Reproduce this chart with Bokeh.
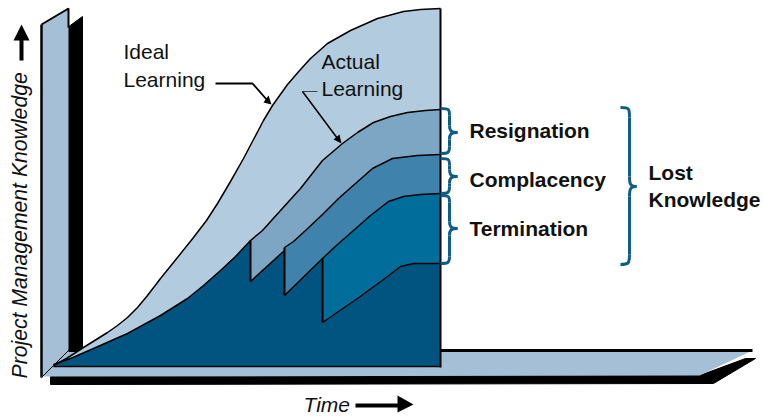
from bokeh.plotting import figure
from bokeh.models import Range1d
from bokeh.core.properties import value
from bokeh.embed import file_html
from bokeh.resources import INLINE
import math

# ---- chart values (image-pixel space of the schematic) ----
ideal_x = [53, 66, 83, 107, 117, 127, 137, 147, 160, 177, 193, 206, 217, 230, 243, 263, 272, 287, 300, 310, 327, 350, 377, 403, 420, 440]
ideal_y = [365, 358, 347, 332, 325, 317, 307, 295, 278, 257, 237, 220, 203, 181, 158, 120, 105, 84, 69, 58, 43, 30, 18, 11, 9, 8]
actual_x = [53, 70, 93, 127, 160, 187, 203, 220, 235, 250, 262, 280, 300, 322, 342, 357, 373, 390, 407, 425, 440]
actual_y = [364, 358, 348, 333, 315, 298, 285, 270, 256, 240, 230, 210, 188, 160, 143, 132, 122, 116, 112, 110, 109]
compl_x = [284, 293, 305, 322, 338, 355, 372, 392, 417, 440]
compl_y = [247, 241, 230, 214, 198, 183, 168, 158, 155, 154]
term_x = [322, 337, 353, 370, 388, 403, 420, 440]
term_y = [258, 244, 230, 215, 201, 196, 194, 193]
res_low_x = [250, 284]
res_low_y = [281, 250]
compl_low_x = [284, 322]
compl_low_y = [295, 258]
term_low_x = [322, 357, 387, 400, 413, 440]
term_low_y = [322, 298, 276, 266, 263, 263]
base_y = 366
right_x = 440

wall_x = [41, 68, 68, 41]
wall_y = [24, 8, 350, 377]
wall_shadow_x = [67, 82, 82, 67]
wall_shadow_y = [27, 16, 350, 350]
floor_x = [41, 68, 752, 699, 41]
floor_y = [377, 350, 350, 375, 376]
floor_shadow_x = [50, 50, 713, 755, 745, 699]
floor_shadow_y = [376, 384, 383, 358, 358, 375]

labels = ["Ideal", "Learning", "Actual", "Learning", "Resignation", "Complacency", "Termination", "Lost", "Knowledge"]
label_x = [123, 123, 321, 321, 469, 469, 469, 648, 648]
label_y = [51, 79, 61, 88, 130, 179, 228, 172, 199]
label_weight = ["normal"] * 4 + ["bold"] * 5

# brace geometry: start x, top, spine x, tip x, tip y, bottom
brace_x0 = [440, 440, 440, 620]
brace_top = [108, 158, 195, 107]
brace_spine = [449, 449, 449, 629]
brace_tip_x = [457, 457, 457, 636]
brace_tip_y = [132, 176, 228, 186]
brace_bot = [153, 193, 263, 264]

LIGHT, BAND1, BAND2, BAND3, DARK = "#b3cbdf", "#7ca6c4", "#3f83ad", "#006d9a", "#00547f"
WALL = "#a5c0d6"
BRACE = "#0f5c87"
INK = "#111111"

p = figure(width=763, height=416, x_range=Range1d(0, 763), y_range=Range1d(416, 0),
           toolbar_location=None, output_backend="svg", min_border=0)
p.axis.visible = False
p.grid.visible = False
p.outline_line_color = None
p.background_fill_color = "white"
p.border_fill_color = "white"

# back wall and floor
p.patch(wall_shadow_x, wall_shadow_y, fill_color="black", line_color="black", line_width=1)
p.patch(floor_shadow_x, floor_shadow_y, fill_color="black", line_color="black", line_width=1)
p.patch(wall_x, wall_y, fill_color=WALL, line_color=None)
p.line(wall_x[:2] + [wall_x[1]], wall_y[:2] + [27], line_color="black", line_width=2)
p.line([wall_x[0], wall_x[3]], [wall_y[0], wall_y[3]], line_color="black", line_width=2.5)
p.patch(floor_x, floor_y, fill_color=WALL, line_color=None)
p.line(floor_x[1:3], [350, 350], line_color="black", line_width=3)
p.line([41, 68], [377, 350], line_color="black", line_width=1)

# layered learning areas
p.patch(ideal_x + [right_x, 53], ideal_y + [base_y, base_y], fill_color=LIGHT, line_color=None)
p.patch(actual_x + [right_x, 53], actual_y + [base_y, base_y], fill_color=DARK, line_color=None)
xs1 = [x for x, y in zip(actual_x, actual_y) if x >= 250]
ys1 = [y for x, y in zip(actual_x, actual_y) if x >= 250]
p.patch(xs1 + compl_x[::-1] + res_low_x[::-1], ys1 + compl_y[::-1] + res_low_y[::-1], fill_color=BAND1, line_color=None)
xs2 = compl_x + term_x[::-1] + compl_low_x[::-1]
ys2 = compl_y + term_y[::-1] + compl_low_y[::-1]
p.patch(xs2, ys2, fill_color=BAND2, line_color=None)
p.patch(term_x + term_low_x[::-1], term_y + term_low_y[::-1], fill_color=BAND3, line_color=None)

for xs, ys in [(ideal_x, ideal_y), (actual_x, actual_y), (compl_x, compl_y), (term_x, term_y),
               (res_low_x, res_low_y), (compl_low_x, compl_low_y), (term_low_x, term_low_y)]:
    p.line(xs, ys, line_color="black", line_width=1.5, line_join="round")
p.line([250, 250], [240, 281], line_color="black", line_width=2)
p.line([284, 284], [247, 295], line_color="black", line_width=2)
p.line([322, 322], [258, 322], line_color="black", line_width=2)
p.line([right_x, right_x], [8, 367], line_color="black", line_width=2)
p.line([53, right_x], [base_y, base_y], line_color="black", line_width=1.5)

# braces
for x0, top, sx, tx, ty, bot in zip(brace_x0, brace_top, brace_spine, brace_tip_x, brace_tip_y, brace_bot):
    r = 7 if bot - top < 100 else 10
    q = 7 if bot - top < 100 else 10
    p.bezier(x0=[x0, sx, tx, sx], y0=[top, ty - q, ty, bot - r],
             x1=[sx, tx, sx, x0], y1=[top + r, ty, ty + q, bot],
             cx0=[sx, sx, sx + 1, sx], cy0=[top, ty - 2, ty, bot - 1],
             cx1=[sx, sx + 1, sx, sx - 1], cy1=[top + 1, ty, ty + 2, bot],
             line_color=BRACE, line_width=3)
    p.line([sx, sx], [top + r, ty - q], line_color=BRACE, line_width=3)
    p.line([sx, sx], [ty + q, bot - r], line_color=BRACE, line_width=3)

# callout arrows
p.line([215, 252, 267], [83, 83, 100], line_color="black", line_width=1.8)
p.patch([271, 263, 268], [104, 102, 95], fill_color="black", line_color=None)
p.line([317, 302], [91, 91], line_color="#444444", line_width=1)
p.line([302, 337], [91, 138], line_color="black", line_width=1.5)
p.patch([341, 333, 339], [143, 139, 134], fill_color="black", line_color=None)

# axis arrows
p.patch([21, 13, 19, 19, 23, 23, 29], [24, 40, 40, 60, 60, 40, 40], fill_color="black", line_color=None)
p.patch([413, 397, 397, 355, 355, 397, 397], [404, 395, 403, 403, 407, 407, 412], fill_color="black", line_color=None)

# text
for w in ("normal", "bold"):
    idx = [i for i, v in enumerate(label_weight) if v == w]
    p.text([label_x[i] for i in idx], [label_y[i] for i in idx], text=[labels[i] for i in idx],
           text_font=value("Liberation Sans"), text_font_size="21px", text_font_style=w,
           text_color=INK, text_baseline="middle", text_align="left")
p.text([19], [378], text=["Project Management Knowledge"], angle=math.pi / 2, text_font=value("Liberation Sans"),
       text_font_size="21.2px", text_font_style="italic", text_color=INK, text_baseline="middle", text_align="left")
p.text([303], [404], text=["Time"], text_font=value("Liberation Sans"), text_font_size="21px",
       text_font_style="italic", text_color=INK, text_baseline="middle", text_align="left")

open("out.html", "w").write(file_html(p, INLINE))
